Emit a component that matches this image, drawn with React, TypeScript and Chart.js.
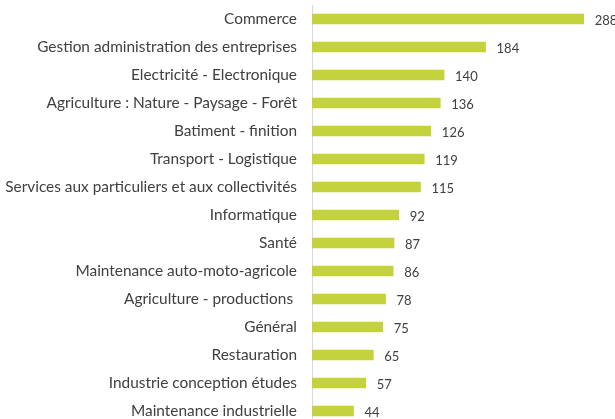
import React, { useEffect, useRef } from "react";
import { Chart, registerables } from "chart.js";

Chart.register(...registerables);

const categories: string[] = [
  "Commerce",
  "Gestion administration des entreprises",
  "Electricité - Electronique",
  "Agriculture : Nature - Paysage - Forêt",
  "Batiment - finition",
  "Transport - Logistique",
  "Services aux particuliers et aux collectivités",
  "Informatique",
  "Santé",
  "Maintenance auto-moto-agricole",
  "Agriculture - productions ",
  "Général",
  "Restauration",
  "Industrie conception études",
  "Maintenance industrielle",
];

const values: number[] = [288, 184, 140, 136, 126, 119, 115, 92, 87, 86, 78, 75, 65, 57, 44];

const BAR_COLOR = "#C4D23C";
const TEXT_COLOR = "#404040";
const FONT_FAMILY = "Lato, 'Open Sans', sans-serif";

const valueLabels = {
  id: "valueLabels",
  afterDatasetsDraw(chart: any) {
    const ctx = chart.ctx;
    const meta = chart.getDatasetMeta(0);
    ctx.save();
    ctx.fillStyle = TEXT_COLOR;
    ctx.font = `13px ${FONT_FAMILY}`;
    ctx.textAlign = "left";
    ctx.textBaseline = "middle";
    meta.data.forEach((bar: any, i: number) => {
      ctx.fillText(String(values[i]), bar.x + 11, bar.y + 1.5);
    });
    ctx.restore();
  },
};

export default function App() {
  const ref = useRef<HTMLCanvasElement | null>(null);

  useEffect(() => {
    document.body.style.margin = "0";
    document.body.style.overflow = "hidden";
    const canvas = ref.current;
    if (!canvas) return;
    const chart = new Chart(canvas, {
      type: "bar",
      data: {
        labels: categories,
        datasets: [
          {
            data: values,
            backgroundColor: BAR_COLOR,
            borderWidth: 0,
            barThickness: 10,
          },
        ],
      },
      options: {
        indexAxis: "y",
        responsive: false,
        animation: false,
        layout: { padding: { top: 5, bottom: 1, left: 0, right: 20 } },
        plugins: {
          legend: { display: false },
          tooltip: { enabled: false },
        },
        scales: {
          x: {
            display: false,
            min: 0,
            max: 300,
          },
          y: {
            grid: { display: false, drawTicks: false },
            border: { display: true, color: "#D9D9D9", width: 1 },
            ticks: {
              color: TEXT_COLOR,
              font: { family: FONT_FAMILY, size: 15.4 },
              padding: 15,
              autoSkip: false,
            },
            afterFit(scale: any) {
              scale.width = 312;
              scale.paddingTop = 0;
              scale.paddingBottom = 0;
            },
          },
        },
      },
      plugins: [valueLabels],
    });
    return () => chart.destroy();
  }, []);

  return (
    <div style={{ width: 615, height: 426 }}>
      <canvas ref={ref} width={615} height={426} />
    </div>
  );
}
